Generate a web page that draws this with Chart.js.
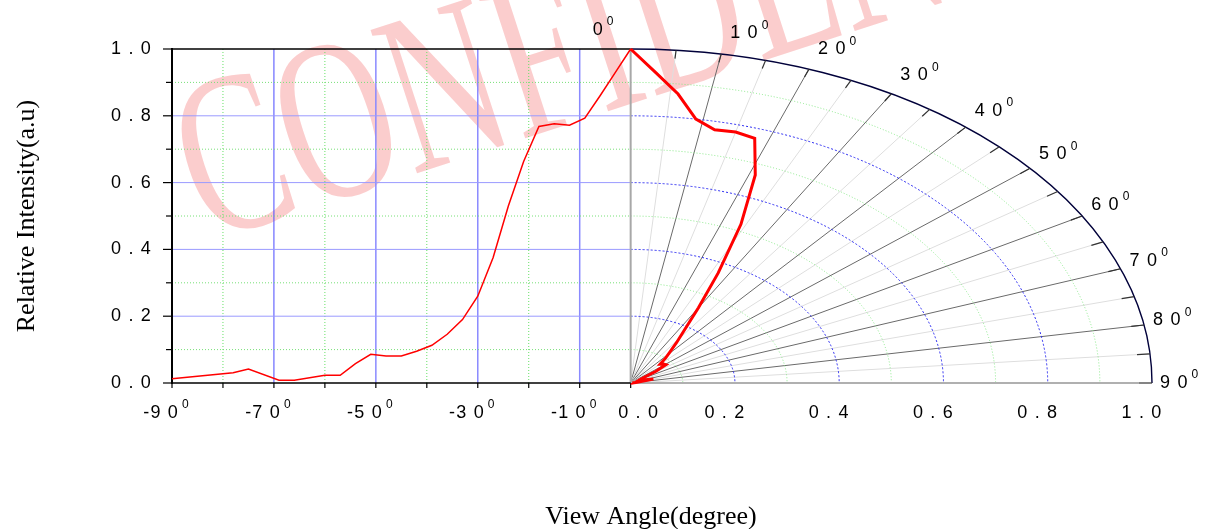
<!DOCTYPE html>
<html>
<head>
<meta charset="utf-8">
<script src="https://cdn.jsdelivr.net/npm/chart.js@4.4.0/dist/chart.umd.min.js"></script>
<style>
  body { margin: 0; background: #fff; }
  #wrap { width: 1211px; height: 529px; position: relative; }
</style>
</head>
<body>
<div id="wrap"><canvas id="myChart"></canvas></div>
<script>
// left half of the plot: intensity against view angle
const leftAngles = [-90, -84, -78, -75, -69, -66, -60, -57, -54, -51, -48, -45, -42, -39, -36, -33, -30, -27, -24, -21, -18, -15, -12, -9, -6, -3, 0];
const leftValues = [0.013, 0.022, 0.031, 0.042, 0.008, 0.008, 0.023, 0.023, 0.058, 0.086, 0.081, 0.081, 0.095, 0.113, 0.146, 0.19, 0.26, 0.375, 0.53, 0.663, 0.768, 0.776, 0.772, 0.793, 0.86, 0.93, 1.0];

// right half: the same kind of curve drawn as a polar plot
const polarAngles = [0, 3, 6, 9, 12, 15, 18, 21, 24, 27, 30, 33, 36, 39, 42, 45, 48, 51, 54, 57, 60, 63, 66, 69, 72, 75, 78, 81, 84, 87, 90];
const polarValues = [1.0, 0.93, 0.87, 0.8, 0.775, 0.778, 0.77, 0.667, 0.52, 0.37, 0.26, 0.19, 0.15, 0.12, 0.1, 0.08, 0.085, 0.087, 0.06, 0.03, 0.022, 0.018, 0.02, 0.025, 0.035, 0.045, 0.02, 0.01, 0.006, 0.004, 0.003];

// tick labels
const yTicks = [0, 0.2, 0.4, 0.6, 0.8, 1.0];
const angleTicks = [-90, -70, -50, -30, -10];
const radiusTicks = [0, 0.2, 0.4, 0.6, 0.8, 1.0];
const polarTicks = [0, 10, 20, 30, 40, 50, 60, 70, 80, 90];

// radius 1.0 of the polar part, in x-axis units (degrees of the left part)
const POLAR_R = 102.3;

function toRad(d) { return d * Math.PI / 180; }

// polar (r, angle from vertical) -> x/y data values
const polarData = polarAngles.map((a, i) => ({
    x: polarValues[i] * Math.sin(toRad(a)) * POLAR_R,
    y: polarValues[i] * Math.cos(toRad(a))
}));
const leftData = leftAngles.map((a, i) => ({ x: a, y: leftValues[i] }));

function spaced(s) { return s.split('').join(' '); }

function line(ctx, x1, y1, x2, y2, color, w, dash) {
    ctx.save();
    ctx.strokeStyle = color;
    ctx.lineWidth = w;
    ctx.setLineDash(dash || []);
    ctx.beginPath();
    ctx.moveTo(x1, y1);
    ctx.lineTo(x2, y2);
    ctx.stroke();
    ctx.restore();
}

// text with a small raised "0" (degree mark like the original)
function degText(ctx, main, x, y, align) {
    ctx.save();
    ctx.font = '18px "Liberation Sans", Arial, sans-serif';
    ctx.letterSpacing = '1.2px';
    const w1 = ctx.measureText(main).width;
    ctx.font = '12px "Liberation Sans", Arial, sans-serif';
    ctx.letterSpacing = '0px';
    const w2 = ctx.measureText('0').width;
    let sx = x;
    if (align === 'center') sx = x - (w1 + 3 + w2) / 2;
    ctx.fillStyle = '#000';
    ctx.textBaseline = 'middle';
    ctx.textAlign = 'left';
    ctx.font = '18px "Liberation Sans", Arial, sans-serif';
    ctx.letterSpacing = '1.2px';
    ctx.fillText(main, sx, y);
    ctx.font = '12px "Liberation Sans", Arial, sans-serif';
    ctx.letterSpacing = '0px';
    ctx.fillText('0', sx + w1 + 3, y - 8);
    ctx.restore();
}

const polarPlugin = {
    id: 'polarPlugin',
    beforeDraw(chart) {
        // watermark
        const ctx = chart.ctx;
        ctx.save();
        ctx.translate(206, 242);
        ctx.rotate(toRad(-18));
        ctx.scale(0.68, 1);
        ctx.font = '230px "Liberation Serif", "Times New Roman", serif';
        ctx.fillStyle = 'rgba(240, 70, 70, 0.27)';
        ctx.textBaseline = 'alphabetic';
        ctx.fillText('CONFIDENTIAL', 0, 0);
        ctx.restore();
    },
    beforeDatasetsDraw(chart) {
        const ctx = chart.ctx;
        const sx = chart.scales.x, sy = chart.scales.y;
        const X = v => sx.getPixelForValue(v);
        const Y = v => sy.getPixelForValue(v);
        const cx = X(0), cy = Y(0);

        // left grid
        for (let a = -80; a < 0; a += 10) {
            if (a % 20 === 0) line(ctx, X(a), Y(0), X(a), Y(1), '#66e066', 1, [1, 2]);
            else line(ctx, X(a), Y(0), X(a), Y(1), a === -70 ? '#4a4aff' : '#8a8aff', a === -70 ? 1 : 1.5);
        }
        for (let k = 1; k < 10; k++) {
            const v = k / 10;
            if (k % 2 === 0) line(ctx, X(-90), Y(v), cx, Y(v), '#9a9aff', 1);
            else line(ctx, X(-90), Y(v), cx, Y(v), '#77e077', 1, [1, 2]);
        }

        // polar rays
        for (let d = 5; d < 90; d += 5) {
            const t = toRad(d);
            const ex = X(Math.sin(t) * POLAR_R), ey = Y(Math.cos(t));
            if (d % 10 === 0) line(ctx, cx, cy, ex, ey, '#6a6a6a', 1);
            else line(ctx, cx, cy, ex, ey, '#dedede', 1);
        }
        // polar rings
        for (let k = 1; k <= 10; k++) {
            const r = k / 10;
            const rx = X(r * POLAR_R) - cx, ry = cy - Y(r);
            ctx.save();
            if (k === 10) { ctx.strokeStyle = '#00003a'; ctx.lineWidth = 1.4; }
            else if (k % 2 === 0) { ctx.strokeStyle = '#2a2af0'; ctx.lineWidth = 1; ctx.setLineDash([2, 2]); }
            else { ctx.strokeStyle = '#88e888'; ctx.lineWidth = 1; ctx.setLineDash([1, 2]); }
            ctx.beginPath();
            ctx.ellipse(cx, cy, rx, ry, 0, -Math.PI / 2, 0);
            ctx.stroke();
            ctx.restore();
        }
        // small ticks on the outer arc
        for (let d = 5; d <= 90; d += 5) {
            const t = toRad(d);
            line(ctx, X(0.975 * Math.sin(t) * POLAR_R), Y(0.975 * Math.cos(t)),
                 X(Math.sin(t) * POLAR_R), Y(Math.cos(t)), '#333', 1.2);
        }
        // 0 degree and 90 degree axes of the polar part
        line(ctx, cx, Y(0), cx, Y(1), '#a8a8a8', 2);
        line(ctx, cx, cy, X(POLAR_R * 0.975), cy, '#b0b0b0', 2);

        // left frame
        const xl = X(-90);
        line(ctx, xl, Y(1), cx, Y(1), '#000', 1.5);
        line(ctx, xl, Y(0), cx, Y(0), '#000', 1.5);
        line(ctx, xl, Y(0) + 1, xl, Y(1) - 1, '#000', 2);
        for (let k = 0; k <= 10; k++) {
            const len = k % 2 === 0 ? 9 : 6;
            line(ctx, xl - len, Y(k / 10), xl, Y(k / 10), '#000', 1.2);
        }
        for (let a = -90; a <= 0; a += 10) {
            line(ctx, X(a), Y(0), X(a), Y(0) + 5, '#000', 1.2);
        }
    },
    afterDatasetsDraw(chart) {
        const ctx = chart.ctx;
        const sx = chart.scales.x, sy = chart.scales.y;
        const X = v => sx.getPixelForValue(v);
        const Y = v => sy.getPixelForValue(v);
        const xl = X(-90);

        // y tick labels
        ctx.save();
        ctx.font = '18px "Liberation Sans", Arial, sans-serif';
        ctx.letterSpacing = '1.2px';
        ctx.fillStyle = '#000';
        ctx.textAlign = 'right';
        ctx.textBaseline = 'middle';
        yTicks.forEach(v => ctx.fillText(spaced(v.toFixed(1)), xl - 20, Y(v)));
        ctx.restore();

        // bottom labels: angles on the left part
        const by = Y(0) + 30;
        angleTicks.forEach(a => {
            const s = String(a);
            degText(ctx, '-' + spaced(s.slice(1)), X(a) - 6, by, 'center');
        });
        // bottom labels: radius of the polar part
        ctx.save();
        ctx.font = '18px "Liberation Sans", Arial, sans-serif';
        ctx.letterSpacing = '1.2px';
        ctx.fillStyle = '#000';
        ctx.textAlign = 'center';
        ctx.textBaseline = 'middle';
        radiusTicks.forEach(r => {
            const off = r === 0 ? 8 : -10;
            ctx.fillText(spaced(r.toFixed(1)), X(r * POLAR_R) + off, by);
        });
        ctx.restore();

        // angle labels around the arc
        polarTicks.forEach(d => {
            const t = toRad(d);
            const px = X(Math.sin(t) * POLAR_R), py = Y(Math.cos(t));
            const txt = spaced(String(d));
            if (d === 0) degText(ctx, txt, px - 38, py - 19, 'left');
            else if (d === 90) degText(ctx, txt, px + 8, py, 'left');
            else degText(ctx, txt, px + 9, py - 20 * Math.cos(t) - 1, 'left');
        });

        // axis titles
        ctx.save();
        ctx.fillStyle = '#000';
        ctx.font = '26px "Liberation Serif", "Times New Roman", serif';
        ctx.textAlign = 'center';
        ctx.textBaseline = 'alphabetic';
        ctx.fillText('View Angle(degree)', 651, 524);
        ctx.translate(34, (Y(0) + Y(1)) / 2);
        ctx.rotate(-Math.PI / 2);
        ctx.fillText('Relative Intensity(a.u)', 0, 0);
        ctx.restore();
    }
};

const ctx = document.getElementById('myChart');

const chart = new Chart(ctx, {
    type: 'scatter',
    data: {
        datasets: [{
            label: 'left',
            data: leftData,
            showLine: true,
            borderColor: '#ff0000',
            borderWidth: 1.5,
            pointRadius: 0,
            tension: 0,
            clip: false
        }, {
            label: 'polar',
            data: polarData,
            showLine: true,
            borderColor: '#ff0000',
            borderWidth: 3,
            pointRadius: 0,
            tension: 0,
            clip: false
        }]
    },
    options: {
        maintainAspectRatio: false,
        responsive: true,
        animation: false,
        layout: {
            padding: { left: 172, right: 59, top: 49, bottom: 146 }
        },
        scales: {
            x: { type: 'linear', min: -90, max: POLAR_R, display: false },
            y: { type: 'linear', min: 0, max: 1, display: false }
        },
        plugins: {
            legend: { display: false },
            tooltip: { enabled: false }
        }
    },
    plugins: [polarPlugin]
});
</script>
</body>
</html>
